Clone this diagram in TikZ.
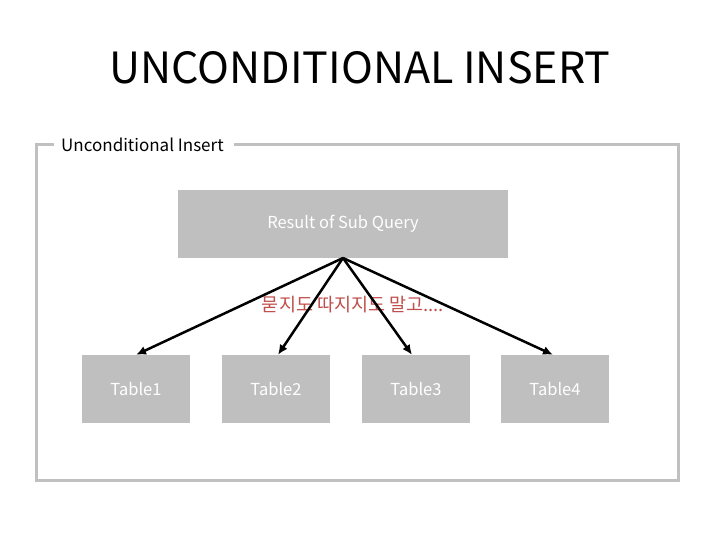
\documentclass[tikz,border=0pt]{standalone}
\usepackage{fontspec}
\setmainfont{Noto Sans CJK KR}
\usetikzlibrary{arrows.meta}
\definecolor{boxgray}{HTML}{BFBFBF}
\definecolor{framegray}{HTML}{C0C0C0}
\definecolor{txtred}{HTML}{C0504D}
\tikzset{
  gbox/.style={fill=boxgray,draw=none,text=white,font=\fontsize{16.5}{19}\selectfont},
  tbox/.style={gbox,minimum width=108pt,minimum height=68pt,inner sep=0pt},
  arr/.style={-{Latex[length=10pt,width=9pt]},line width=2.5pt,black}
}
\begin{document}
\begin{tikzpicture}[x=1pt,y=-1pt]
\useasboundingbox (0,0) rectangle (720,540);
\node (title) at (360,68) {\fontsize{43}{48}\selectfont UNCONDITIONAL INSERT};
\draw[framegray,line width=3pt] (234,145) -- (678,145) -- (678,480) -- (36,480) -- (36,145) -- (54,145);
\node[anchor=west,inner sep=0pt,font=\fontsize{17}{20}\selectfont] (flabel) at (61,145) {Unconditional Insert};
\node[gbox,minimum width=330pt,minimum height=68pt,inner sep=0pt] (res) at (343,224) {Result of Sub Query};
\coordinate (src) at (343,258);
\node[tbox] (t1) at (136,389) {Table1};
\node[tbox] (t2) at (276,389) {Table2};
\node[tbox] (t3) at (416,389) {Table3};
\node[tbox] (t4) at (555,389) {Table4};
\node[text=txtred,font=\fontsize{18.5}{21}\selectfont] (kr) at (353,305) {묻지도 따지지도 말고....};
\draw[arr] (src) -- (t1.north);
\draw[arr] (src) -- ([xshift=2pt]t2.north);
\draw[arr] (src) -- ([xshift=-4pt]t3.north);
\draw[arr] (src) -- ([xshift=-2pt]t4.north);
\end{tikzpicture}
\end{document}
